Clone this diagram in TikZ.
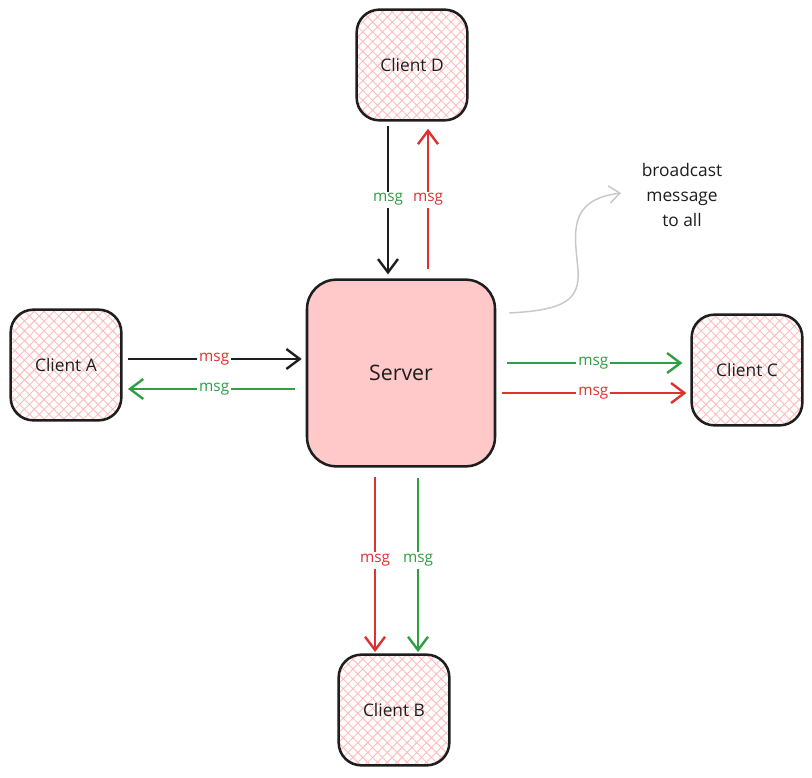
\documentclass[tikz,border=0pt]{standalone}
\usepackage{fontspec}
\setmainfont{Open Sans}
\usetikzlibrary{arrows.meta,patterns.meta,calc}
\definecolor{ink}{HTML}{1E1E1E}
\definecolor{myred}{HTML}{E03131}
\definecolor{mygreen}{HTML}{2F9E44}
\definecolor{pinkfill}{HTML}{FFC9C9}
\definecolor{hatchpink}{HTML}{FFBDBD}
\definecolor{lgray}{HTML}{C8C8C8}
\tikzset{
 client/.style={draw=ink, line width=1.9pt, rounded corners=17pt, minimum width=83pt, minimum height=83pt,
   pattern={Hatch[angle=45,distance=5.2pt,line width=0.7pt]}, pattern color=hatchpink,
   font=\fontsize{13}{15}\selectfont, text=ink},
 server/.style={draw=ink, line width=1.9pt, rounded corners=22pt, fill=pinkfill, minimum width=141pt,
   minimum height=140pt, font=\fontsize{16}{19}\selectfont, text=ink},
 conn/.style={line width=1.8pt, -{Straight Barb[length=10pt,width=15pt]}},
 lbl/.style={fill=white, inner sep=1.5pt, font=\fontsize{11.5}{13}\selectfont},
}
\begin{document}
\begin{tikzpicture}[x=0.75pt,y=-0.75pt]
\useasboundingbox (0,0) rectangle (812,777);
\node[client] (D) at (412,65) {Client D};
\node[client] (A) at (66,365) {Client A};
\node[client] (C) at (747,370) {Client C};
\node[client] (B) at (394,710) {Client B};
\node[server] (S) at (401,373) {Server};
\node[align=center, font=\fontsize{13}{18.5}\selectfont, text=ink] (T) at (682,195) {broadcast\\message\\to all};

\coordinate (xd1) at (388,0);
\coordinate (xd2) at (428,0);
\coordinate (ya1) at (0,359);
\coordinate (ya2) at (0,389);
\coordinate (yc1) at (0,363);
\coordinate (yc2) at (0,393);
\coordinate (xb1) at (375,0);
\coordinate (xb2) at (418,0);
\coordinate (bc) at (621,193);

% Client D <-> Server
\draw[conn,ink,shorten <=4pt,shorten >=3pt] (D.south -| xd1) -- (S.north -| xd1)
  node[lbl,text=mygreen,midway]{msg};
\draw[conn,myred,shorten <=7pt,shorten >=6pt] (S.north -| xd2) -- (D.south -| xd2)
  node[lbl,text=myred,midway]{msg};
% Client A <-> Server
\draw[conn,ink,shorten <=4pt,shorten >=3pt] (A.east |- ya1) -- (S.west |- ya1)
  node[lbl,text=myred,midway]{msg};
\draw[conn,mygreen,shorten <=8pt,shorten >=4pt] (S.west |- ya2) -- (A.east |- ya2)
  node[lbl,text=mygreen,midway]{msg};
% Server -> Client C
\draw[conn,mygreen,shorten <=8pt,shorten >=6pt] (S.east |- yc1) -- (C.west |- yc1)
  node[lbl,text=mygreen,midway]{msg};
\draw[conn,myred,shorten <=4pt,shorten >=3pt] (S.east |- yc2) -- (C.west |- yc2)
  node[lbl,text=myred,midway]{msg};
% Server -> Client B
\draw[conn,myred,shorten <=7pt,shorten >=1pt] (S.south -| xb1) -- (B.north -| xb1)
  node[lbl,text=myred,midway]{msg};
\draw[conn,mygreen,shorten <=8pt,shorten >=1pt] (S.south -| xb2) -- (B.north -| xb2)
  node[lbl,text=mygreen,midway]{msg};
% broadcast note
\draw[lgray,line width=1.1pt,-{Straight Barb[length=8pt,width=13pt]}]
  ($(S.east)+(13,-60)$) .. controls (565,310) and (580,300) .. (578,270)
  .. controls (575,235) and (566,200) .. (bc);
\end{tikzpicture}
\end{document}
